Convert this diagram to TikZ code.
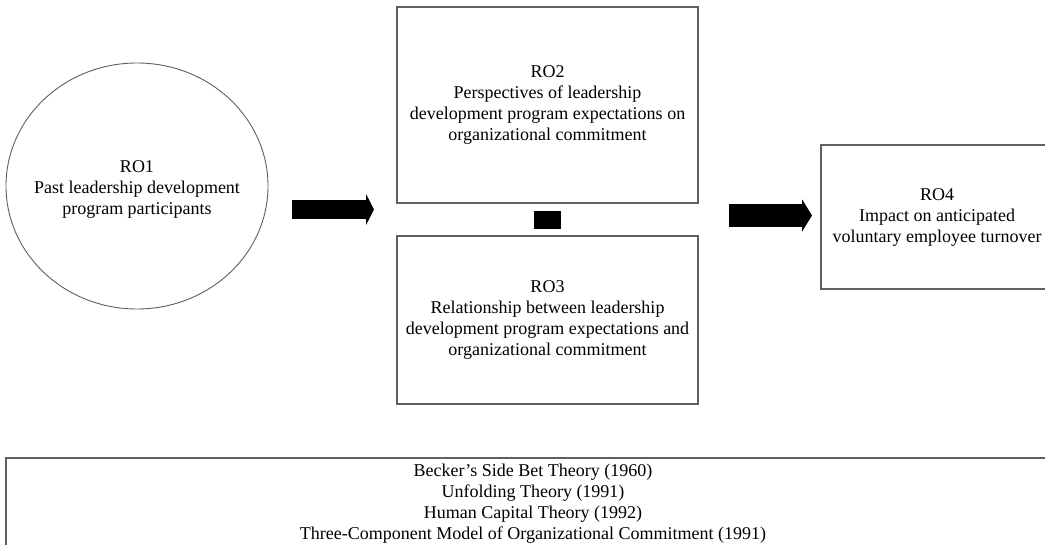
\documentclass[tikz,border=0pt]{standalone}
\usepackage{fontspec}
\setmainfont{Liberation Serif}
\usetikzlibrary{arrows.meta,shapes.geometric}
\definecolor{edgegray}{RGB}{95,95,95}
\tikzset{
  robox/.style={draw=edgegray,line width=1.3pt,align=center,inner sep=0pt,
    font=\fontsize{18}{21}\selectfont},
  rooval/.style={ellipse,draw=edgegray,line width=0.9pt,inner sep=0pt},
  rotext/.style={align=center,inner sep=0pt,font=\fontsize{18}{21}\selectfont},
  blockarrow/.style={line width=#1,draw=black}
}
\begin{document}
\begin{tikzpicture}[line join=miter,x=1pt,y=-1pt]
			\useasboundingbox (0,0) rectangle (1045,545);
			\clip (0,0) rectangle (1045,545);
			% research objectives
			\node[rooval,minimum width=262pt,minimum height=246pt] (ro1) at (137,186) {};
			\node[rotext] (ro1text) at (137,189)
				{RO1\\Past leadership development\\program participants};
			\node[robox,minimum width=301pt,minimum height=196pt] (ro2) at (547.5,105)
				{RO2\\Perspectives of leadership\\development program expectations on\\organizational commitment};
			\node[robox,minimum width=301pt,minimum height=168pt] (ro3) at (547.5,320)
				{RO3\\Relationship between leadership\\development program expectations and\\organizational commitment};
			\node[fill=black,minimum width=27pt,minimum height=18pt,inner sep=0pt] (link) at (547.5,220) {};
			\node[robox,minimum width=232pt,minimum height=144pt] (ro4) at (937,217)
				{RO4\\Impact on anticipated\\voluntary employee turnover};
			% theories
			\node[draw=edgegray,line width=1.3pt,minimum width=1050pt,minimum height=104pt,inner sep=0pt] (frame) at (531,510) {};
			\node[rotext] (theories) at (533,504)
				{Becker's Side Bet Theory (1960)\\Unfolding Theory (1991)\\Human Capital Theory (1992)\\Three-Component Model of Organizational Commitment (1991)};
			% arrows
			\coordinate (a1s) at (292,209.5);
			\coordinate (a1e) at (374,209.5);
			\coordinate (a2s) at (729,215.5);
			\coordinate (a2e) at (812,215.5);
			\draw[blockarrow=19pt,-{Triangle[length=8pt,width=31pt]}] (a1s) -- (a1e);
			\draw[blockarrow=23pt,-{Triangle[length=10pt,width=32pt]}] (a2s) -- (a2e);
\end{tikzpicture}
\end{document}
